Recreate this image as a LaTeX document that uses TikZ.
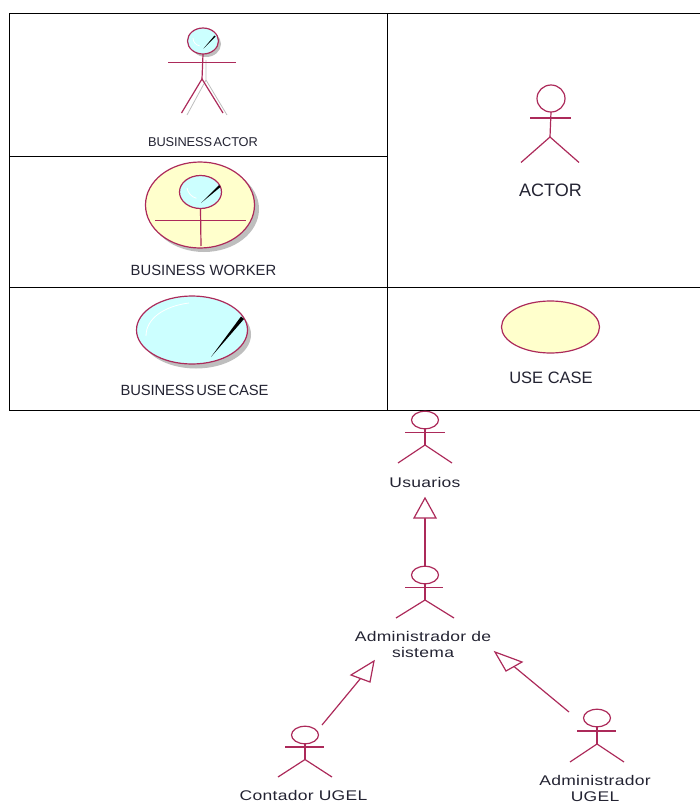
\documentclass[tikz,border=0pt]{standalone}
\usepackage{fontspec}
\setmainfont{Liberation Sans}
\newfontfamily\tightfont[WordSpace=0.5,LetterSpace=-1]{Liberation Sans}
\newfontfamily\diagfont[FakeStretch=1.25,LetterSpace=2]{Liberation Sans}
\usetikzlibrary{shapes.geometric}
\definecolor{rosered}{RGB}{172,42,90}
\definecolor{lcyan}{RGB}{204,255,255}
\definecolor{lyellow}{RGB}{255,255,204}
\definecolor{shadowg}{RGB}{190,190,190}
\definecolor{txt}{RGB}{35,35,50}
\tikzset{
  grid line/.style={draw=black,line width=1pt},
  ln/.style={draw=rosered,line width=1.2pt},
  head/.style={shape=ellipse,draw=rosered,line width=1.2pt,inner sep=0pt,outer sep=0pt},
  big label/.style={font=\fontsize{#1}{#1}\selectfont,text=txt,inner sep=0pt},
  tight label/.style={font=\tightfont\fontsize{#1}{#1}\selectfont,text=txt,inner sep=0pt},
  diagram label/.style={font=\diagfont\fontsize{14}{16}\selectfont,text=txt,inner sep=0pt,align=center},
  gen tip/.style={draw=rosered,line width=1.2pt,fill=white,line join=miter},
  needle/.style={fill=black,draw=none},
  gloss/.style={draw=white,line width=.8pt},
}
\newcommand{\stickactor}[9]{%
  \node[head,minimum width=27pt,minimum height=17.5pt] (#1) at (#2,#3) {};
  \draw[ln] (#1.south) -- (#2,#7);
  \draw[ln] (#4,#6) -- (#5,#6);
  \draw[ln] (#8,#9) -- (#2,#7) -- ({#2+(#2-#8)},#9);
}
\begin{document}
\begin{tikzpicture}[x=1pt,y=-1pt]
\useasboundingbox (0,0) rectangle (700,803);
% table
\coordinate (tl) at (9.5,13);
\coordinate (tr) at (700,13);
\coordinate (ml) at (9.5,287);
\coordinate (mr) at (700,287);
\coordinate (bl) at (9.5,410.5);
\coordinate (br) at (700,410.5);
\coordinate (vt) at (387.5,13);
\coordinate (vb) at (387.5,410.5);
\coordinate (sl) at (9.5,156.5);
\coordinate (sr) at (387.5,156.5);
\draw[grid line] (tr) -- (tl) -- (bl) -- (br);
\draw[grid line] (ml) -- (mr);
\draw[grid line] (vt) -- (vb);
\draw[grid line] (sl) -- (sr);
% business actor
\fill[shadowg] (206,44) ellipse (15 and 13);
\draw[shadowg,line width=.8pt] (206,60) -- (206,80) -- (187,115);
\draw[shadowg,line width=.8pt] (206,80) -- (227,115);
\node[head,fill=lcyan,minimum width=31pt,minimum height=26pt] (ba) at (203,41) {};
\draw[gloss] (193,38) arc (180:100:8);
\fill[needle] (203.5,48.5) -- (214.5,35.5) -- (215.5,36.5) -- cycle;
\draw[ln] (ba.south) -- (202,79);
\draw[ln] (168,62.5) -- (236,62.5);
\draw[ln] (181.5,113) -- (202,79) -- (223,113);
\node[tight label=12.8] (balabel) at (203,142) {BUSINESS ACTOR};
% business worker
\fill[shadowg] (204,209) ellipse (55 and 43);
\node[head,fill=lyellow,minimum width=109pt,minimum height=86pt] (bw) at (200,205) {};
\node[head,fill=lcyan,minimum width=42pt,minimum height=33pt] (bwh) at (200.5,192) {};
\draw[gloss] (187,188) arc (170:105:13);
\fill[needle] (201,203) -- (219,185) -- (220.5,187) -- cycle;
\draw[ln] (bwh.south) -- (201,246);
\draw[ln] (155,220.5) -- (246,220.5);
\node[big label=14.8] (bwlabel) at (203.5,270.5) {BUSINESS WORKER};
% business use case
\fill[shadowg] (196,334.5) ellipse (55 and 34);
\node[head,fill=lcyan,minimum width=111pt,minimum height=68pt] (buc) at (192,330) {};
\draw[gloss] (146,336) .. controls (146,318) and (165,306) .. (189,303);
\fill[needle] (211,357) -- (241,316.5) -- (244,319) -- cycle;
\node[tight label=14.8] (buclabel) at (194.5,390) {BUSINESS USE CASE};
% actor
\node[head,minimum width=28pt,minimum height=27pt] (act) at (551,98.5) {};
\draw[ln] (act.south) -- (550,137);
\draw[ln] (530,118) -- (571,118);
\draw[ln] (521,162.5) -- (550,137) -- (579,162.5);
\node[big label=18] (actlabel) at (550.5,190) {ACTOR};
% use case
\node[head,fill=lyellow,minimum width=98pt,minimum height=52pt] (uc) at (550.5,327) {};
\node[big label=16.5] (uclabel) at (551,378) {USE CASE};
% diagram actors
\stickactor{us}{425}{420}{405}{445}{432.5}{445}{398}{463}
\node[diagram label] (uslabel) at (425,482) {Usuarios};
\stickactor{ad}{425}{575}{405}{443}{587.5}{600}{396}{618}
\node[diagram label] (adlabel) at (423,644.5) {Administrador de\\sistema};
\stickactor{co}{305}{735}{285}{324}{747}{759.5}{278}{777}
\node[diagram label] (colabel) at (303.5,795.5) {Contador UGEL};
\stickactor{au}{597}{718}{577}{616}{731}{744}{570}{762}
\node[diagram label] (aulabel) at (595,788.5) {Administrador\\UGEL};
% generalisations
\coordinate (g1tip) at (425,498);
\coordinate (g1a) at (414,518);
\coordinate (g1b) at (436,518);
\coordinate (g1m) at (425,518);
\draw[ln] (ad.north) -- (g1m);
\draw[gen tip] (g1tip) -- (g1a) -- (g1b) -- cycle;
\coordinate (g2tip) at (374,661);
\coordinate (g2a) at (351,675);
\coordinate (g2b) at (370,682);
\coordinate (g2m) at (360.5,678.5);
\coordinate (g2s) at (322,725);
\draw[ln] (g2s) -- (g2m);
\draw[gen tip] (g2tip) -- (g2a) -- (g2b) -- cycle;
\coordinate (g3tip) at (495,652);
\coordinate (g3a) at (522,662);
\coordinate (g3b) at (506,671);
\coordinate (g3m) at (514,666.5);
\coordinate (g3s) at (569,712);
\draw[ln] (g3s) -- (g3m);
\draw[gen tip] (g3tip) -- (g3a) -- (g3b) -- cycle;
\end{tikzpicture}
\end{document}
